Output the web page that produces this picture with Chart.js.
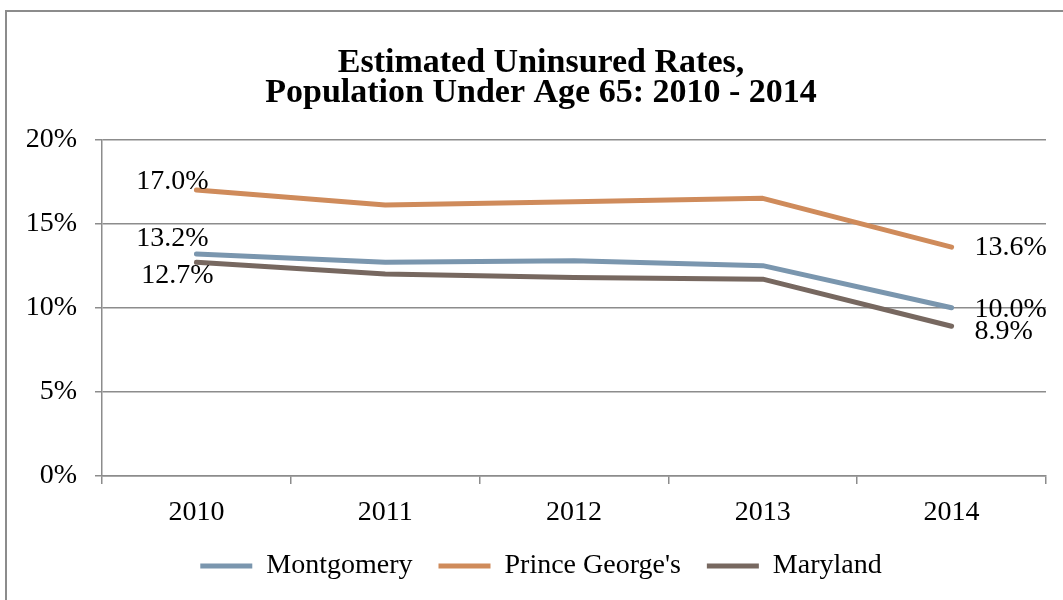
<!DOCTYPE html>
<html>
<head>
<meta charset="utf-8">
<title>Estimated Uninsured Rates</title>
<script src="https://cdn.jsdelivr.net/npm/chart.js@4"></script>
<style>
  body { margin: 0; background: #fff; overflow: hidden; }
  .frame { position: absolute; left: 5px; top: 10px; width: 1100px; height: 700px; border: 2px solid #8c8c8c; }
  .wrap { position: absolute; left: 0; top: 0; width: 1063px; height: 600px; }
</style>
</head>
<body>
<div class="frame"></div>
<div class="wrap"><canvas id="uninsuredChart"></canvas></div>
<script>
// datos
const years = ['2010', '2011', '2012', '2013', '2014'];
const montgomery = [13.2, 12.7, 12.8, 12.5, 10.0];
const princeGeorges = [17.0, 16.1, 16.3, 16.5, 13.6];
const maryland = [12.7, 12.0, 11.8, 11.7, 8.9];
const yTicks = [0, 5, 10, 15, 20];

const serif = '"Liberation Serif", "Times New Roman", serif';

// etiquetas solo en el primer y ultimo punto (desplazamientos en px)
const labelOffsets = [
  { first: [-24, -15], last: [23, 2] },   // Montgomery
  { first: [-24, -8], last: [23, 0] },    // Prince George's
  { first: [-19, 13], last: [23, 5] }     // Maryland
];

const endLabels = {
  id: 'endLabels',
  afterDatasetsDraw(chart) {
    const ctx = chart.ctx;
    ctx.save();
    ctx.font = '28px ' + serif;
    ctx.fillStyle = '#000';
    ctx.textBaseline = 'middle';
    chart.data.datasets.forEach((ds, i) => {
      const meta = chart.getDatasetMeta(i);
      const off = labelOffsets[i];
      const last = ds.data.length - 1;
      const p0 = meta.data[0];
      const p1 = meta.data[last];
      ctx.textAlign = 'center';
      ctx.fillText(ds.data[0].toFixed(1) + '%', p0.x + off.first[0], p0.y + off.first[1]);
      ctx.textAlign = 'left';
      ctx.fillText(ds.data[last].toFixed(1) + '%', p1.x + off.last[0], p1.y + off.last[1]);
    });
    ctx.restore();
  }
};

function serie(label, data, color) {
  return {
    label: label,
    data: data,
    borderColor: color,
    backgroundColor: color,
    borderWidth: 5,
    borderCapStyle: 'round',
    borderJoinStyle: 'round',
    pointRadius: 0,
    tension: 0
  };
}

const gridGray = '#8c8c8c';

new Chart(document.getElementById('uninsuredChart'), {
  type: 'line',
  data: {
    labels: years,
    datasets: [
      serie('Montgomery', montgomery, '#7a96ae'),
      serie("Prince George's", princeGeorges, '#cf8b5b'),
      serie('Maryland', maryland, '#776860')
    ]
  },
  plugins: [endLabels],
  options: {
    responsive: true,
    maintainAspectRatio: false,
    animation: false,
    layout: { padding: { left: 20, right: 1, top: 10, bottom: 10 } },
    plugins: {
      title: {
        display: true,
        text: ['Estimated Uninsured Rates,', 'Population Under Age 65: 2010 - 2014'],
        color: '#000',
        font: { family: serif, size: 34, weight: 'bold', lineHeight: 0.86 },
        padding: { top: 39, bottom: 32 }
      },
      legend: {
        position: 'bottom',
        labels: {
          color: '#000',
          font: { family: serif, size: 28 },
          usePointStyle: true,
          pointStyle: 'line',
          pointStyleWidth: 52,
          padding: 26
        }
      },
      tooltip: { enabled: false }
    },
    scales: {
      x: {
        offset: true,
        grid: {
          offset: true,
          drawOnChartArea: false,
          drawTicks: true,
          tickLength: 8,
          color: gridGray,
          lineWidth: 1.5
        },
        border: { color: gridGray, width: 1.5 },
        ticks: { color: '#000', font: { family: serif, size: 28 }, padding: 12 },
        afterFit: (scale) => { scale.height = 50; }
      },
      y: {
        min: 0,
        max: 20,
        afterBuildTicks: (scale) => { scale.ticks = yTicks.map(v => ({ value: v })); },
        grid: { color: gridGray, lineWidth: 1.5, drawTicks: true, tickLength: 7 },
        border: { color: gridGray, width: 1.5 },
        ticks: {
          color: '#000',
          font: { family: serif, size: 28 },
          padding: 18,
          callback: (v) => v + '%'
        },
        afterFit: (scale) => { scale.width = 82; }
      },
      // eje vacio a la derecha, solo reserva espacio
      yRight: {
        position: 'right',
        grid: { display: false },
        border: { display: false },
        ticks: { display: false },
        afterFit: (scale) => { scale.width = 16; }
      }
    }
  }
});
</script>
</body>
</html>
